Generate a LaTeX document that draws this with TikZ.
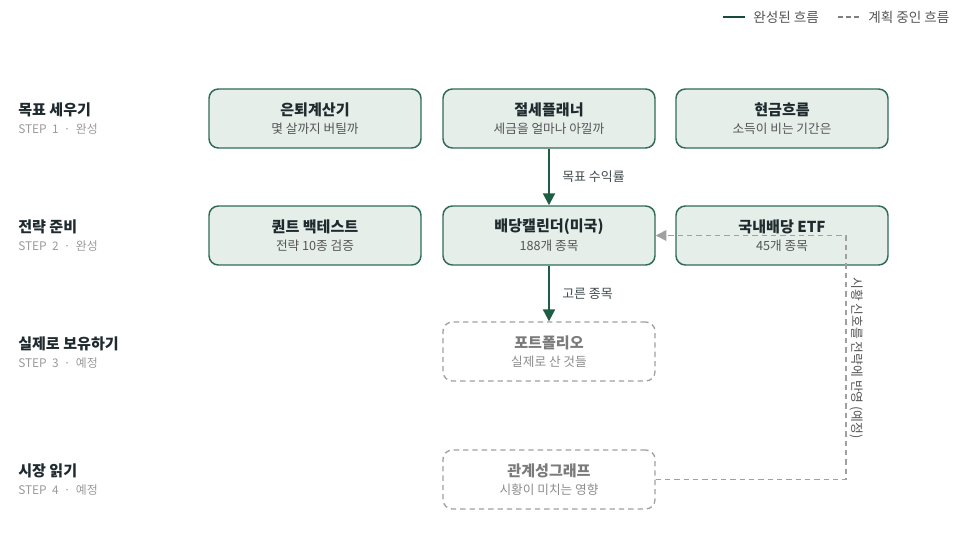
\documentclass[tikz,border=0pt]{standalone}
\usepackage{fontspec}
\setmainfont{Noto Sans CJK KR}
\usetikzlibrary{arrows.meta}
\definecolor{boxfill}{HTML}{E5EEE9}
\definecolor{boxline}{HTML}{2F6B57}
\definecolor{arrowc}{HTML}{1E5E45}
\definecolor{darktxt}{HTML}{1F2A2E}
\definecolor{subtxt}{HTML}{555555}
\definecolor{stepc}{HTML}{9A9A9A}
\definecolor{dashc}{HTML}{A0A0A0}
\definecolor{plantitle}{HTML}{7A7A7A}
\definecolor{plansub}{HTML}{8C8C8C}
\begin{document}
\begin{tikzpicture}[x=0.75pt,y=-0.75pt,
  donebox/.style={draw=boxline,fill=boxfill,line width=1.1pt,rounded corners=7pt,minimum width=212*0.75pt,minimum height=59*0.75pt,inner sep=0pt},
  planbox/.style={draw=dashc,dashed,dash pattern=on 4pt off 3pt,line width=1pt,rounded corners=7pt,minimum width=212*0.75pt,minimum height=59*0.75pt,inner sep=0pt},
  ttl/.style={font=\fontsize{11.3}{13}\selectfont\bfseries,text=darktxt,inner sep=0pt},
  sub/.style={font=\fontsize{9.5}{11}\selectfont,text=subtxt,inner sep=0pt},
  pttl/.style={font=\fontsize{11.3}{13}\selectfont\bfseries,text=plantitle,inner sep=0pt},
  psub/.style={font=\fontsize{9.5}{11}\selectfont,text=plansub,inner sep=0pt},
  steptitle/.style={font=\fontsize{11.3}{13}\selectfont\bfseries,text=darktxt,anchor=west,inner sep=0pt},
  stepsub/.style={font=\fontsize{8.9}{10}\selectfont,text=stepc,anchor=west,inner sep=0pt},
  donearrow/.style={draw=arrowc,line width=1.5pt,-{Triangle[length=9pt,width=9pt]}},
  planarrow/.style={draw=dashc,line width=1.1pt,dash pattern=on 4pt off 3pt,-{Triangle[length=8pt,width=8pt]}},
  lbl/.style={font=\fontsize{9.7}{11}\selectfont,text=darktxt!85,inner sep=0pt,anchor=west},
  legtxt/.style={font=\fontsize{10.2}{12}\selectfont,text=subtxt,inner sep=0pt,anchor=west}
]
\useasboundingbox (0,0) rectangle (967,549);
% legend
\coordinate (l1a) at (723,17); \coordinate (l1b) at (745,17);
\draw[arrowc!80!black,line width=1.5pt] (l1a) -- (l1b);
\node[legtxt] (leg1) at (753,17) {완성된 흐름};
\coordinate (l2a) at (838,17); \coordinate (l2b) at (860,17);
\draw[dashc!80!black,line width=1.2pt,dash pattern=on 3.5pt off 2.5pt] (l2a) -- (l2b);
\node[legtxt] (leg2) at (868,17) {계획 중인 흐름};
% step labels
\node[steptitle] (s1) at (18,110) {목표 세우기};
\node[stepsub] (s1b) at (18,129) {STEP\ \ 1\ \ ·\ \ 완성};
\node[steptitle] (s2) at (18,227) {전략 준비};
\node[stepsub] (s2b) at (18,246) {STEP\ \ 2\ \ ·\ \ 완성};
\node[steptitle] (s3) at (18,344) {실제로 보유하기};
\node[stepsub] (s3b) at (18,363) {STEP\ \ 3\ \ ·\ \ 예정};
\node[steptitle] (s4) at (18,471) {시장 읽기};
\node[stepsub] (s4b) at (18,490) {STEP\ \ 4\ \ ·\ \ 예정};
% row 1
\node[donebox] (retire) at (315,118.5) {};
\node[ttl] at (315,110) {은퇴계산기};
\node[sub] at (315,129) {몇 살까지 버틸까};
\node[donebox] (tax) at (549,118.5) {};
\node[ttl] at (549,110) {절세플래너};
\node[sub] at (549,129) {세금을 얼마나 아낄까};
\node[donebox] (cash) at (782,118.5) {};
\node[ttl] at (782,110) {현금흐름};
\node[sub] at (782,129) {소득이 비는 기간은};
% row 2
\node[donebox] (quant) at (315,235.5) {};
\node[ttl] at (315,227) {퀀트 백테스트};
\node[sub] at (315,246) {전략 10종 검증};
\node[donebox] (div) at (549,235.5) {};
\node[ttl] at (549,227) {배당캘린더(미국)};
\node[sub] at (549,246) {188개 종목};
\node[donebox] (etf) at (782,235.5) {};
\node[ttl] at (782,227) {국내배당 ETF};
\node[sub] at (782,246) {45개 종목};
% row 3
\node[planbox] (port) at (549,351.5) {};
\node[pttl] at (549,343) {포트폴리오};
\node[psub] at (549,362) {실제로 산 것들};
% row 4
\node[planbox] (graph) at (549,479.5) {};
\node[pttl] at (549,471) {관계성그래프};
\node[psub] at (549,490) {시황이 미치는 영향};
% arrows
\draw[donearrow] (tax.south) -- (div.north);
\node[lbl] (a1) at (562,177) {목표 수익률};
\draw[donearrow] (div.south) -- (port.north);
\node[lbl] (a2) at (562,294) {고른 종목};
\coordinate (c1) at (846,479.5);
\coordinate (c2) at (846,235.5);
\draw[planarrow] (graph.east) -- (c1) -- (c2) -- (div.east);
\node[font=\fontsize{9.6}{11}\selectfont,text=subtxt,inner sep=0pt,rotate=-90] (a3) at (857,358) {시황 신호를 전략에 반영 (예정)};
\end{tikzpicture}
\end{document}
